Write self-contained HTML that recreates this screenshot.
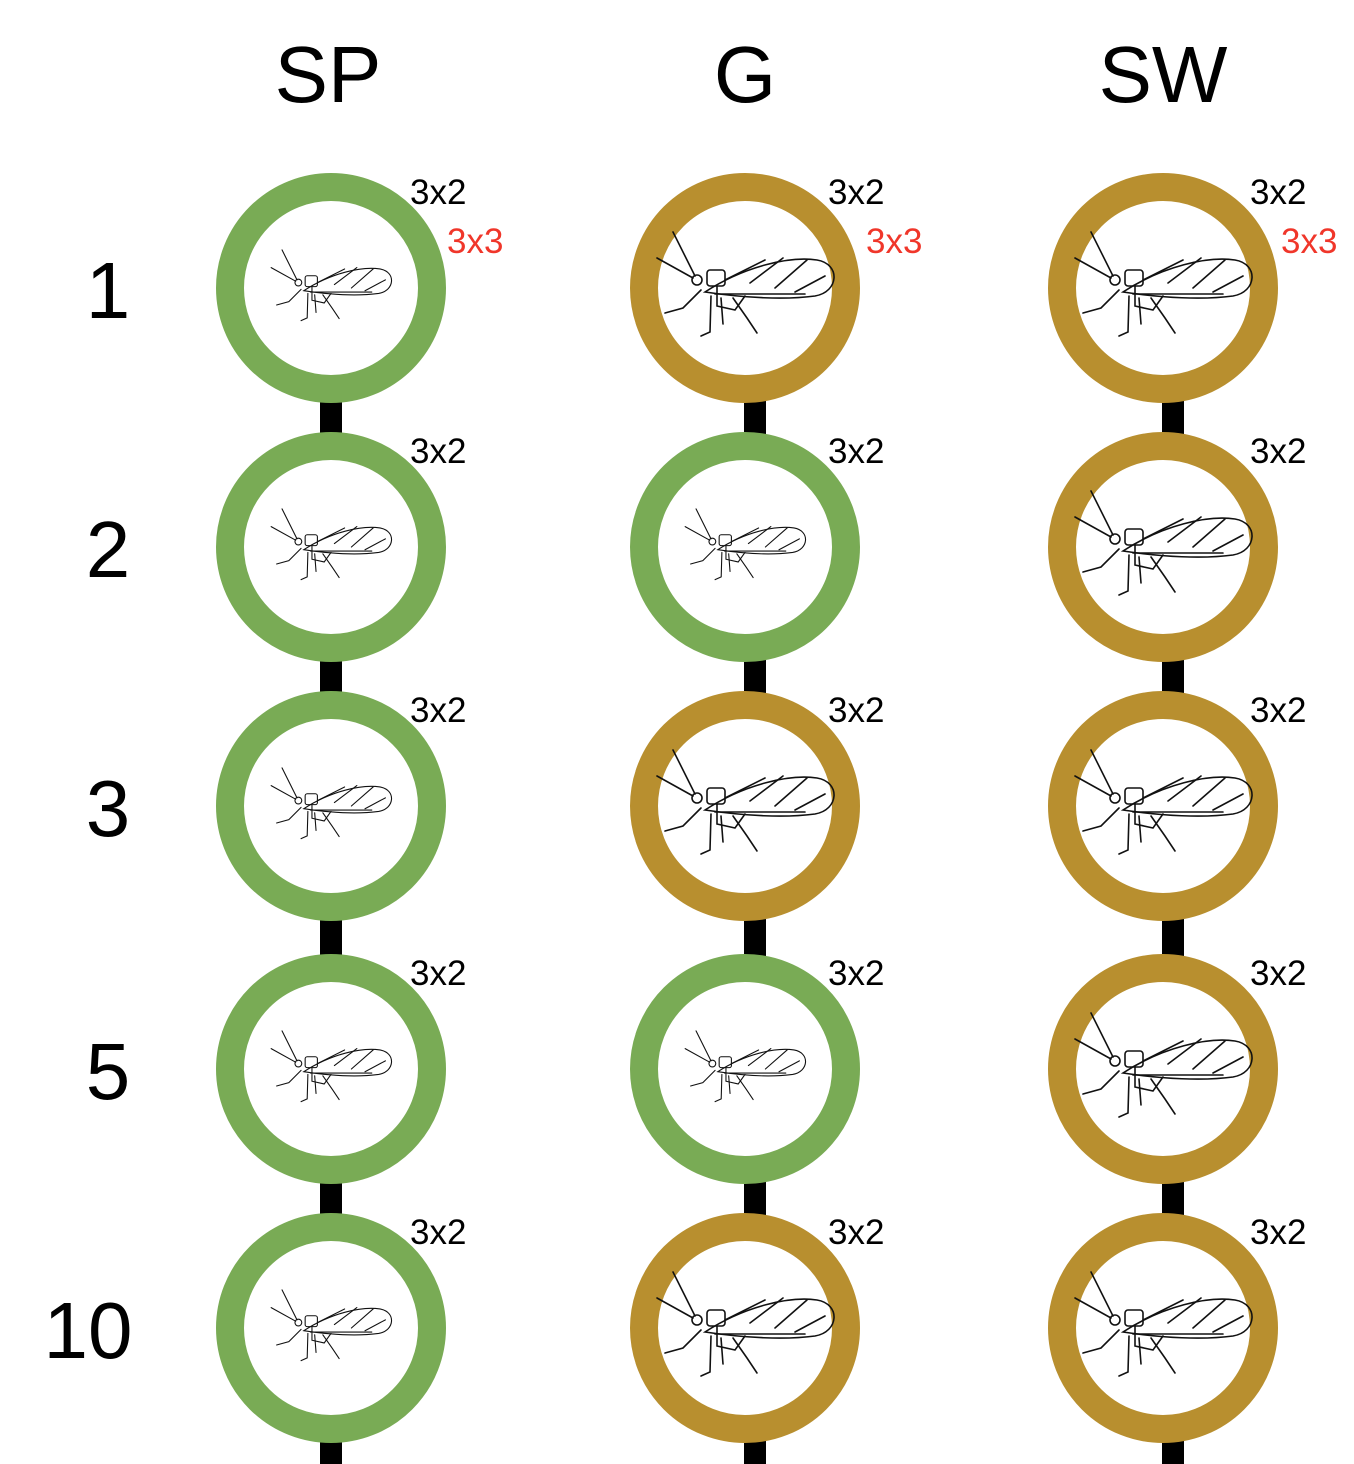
<!DOCTYPE html>
<html><head><meta charset="utf-8"><style>
html,body{margin:0;padding:0;background:#fff}
svg{display:block}
text{font-family:"Liberation Sans",sans-serif}
</style></head><body>
<svg id="chart" width="1354" height="1464" viewBox="0 0 1354 1464" xmlns="http://www.w3.org/2000/svg">
<defs>
<g id="aphid" fill="none" stroke="#111" stroke-width="1.6" stroke-linecap="round">
<path d="M-40,4 C0,-22 45,-32 72,-28 C96,-24 94,4 70,8 C40,12 0,10 -40,4 Z"/>
<path d="M-20,-8 L20,-28 M5,-5 L38,-30 M30,0 L62,-28 M50,4 L80,-12 M-30,6 L60,6"/>
<rect x="-38" y="-18" width="18" height="16" rx="3"/>
<path d="M-28,-2 L-28,18 L-10,22 L0,8"/>
<circle cx="-48" cy="-8" r="5"/>
<path d="M-50,-12 L-72,-56 M-52,-10 L-88,-30"/>
<path d="M-44,2 L-62,20 L-80,25 M-34,8 L-35,44 L-44,48 M-24,10 L-22,36 M-12,10 L2,30 L12,45"/>
</g>
</defs>
<g id="layer"></g>
</svg>
<script>
const columns = ["SP", "G", "SW"];
const rows = ["1", "2", "3", "5", "10"];
// state per column per row: "g" = green, "b" = brown
const colSP = ["g","g","g","g","g"];
const colG  = ["b","g","b","g","b"];
const colSW = ["b","b","b","b","b"];
const sizeLabels = ["3x2","3x2","3x2","3x2","3x2"];
const extraLabels = ["3x3","","","",""];

const states = [colSP, colG, colSW];
const colX = i => [331, 745, 1163][i];
const headX = i => [328, 745, 1163][i];
const labOff = i => [79, 83, 87][i];
const redOff = i => [116, 121, 118][i];
const rowY = j => [288, 547, 806, 1069, 1328][j];
const NS = "http://www.w3.org/2000/svg";
const layer = document.getElementById("layer");
function mk(tag, attrs, parent){const e=document.createElementNS(NS,tag);for(const k in attrs)e.setAttribute(k,attrs[k]);(parent||layer).appendChild(e);return e;}

columns.forEach((c,i)=>{
  const t = mk("text",{x:headX(i),y:102,"font-size":80,"text-anchor":"middle"});
  t.textContent=c;
  
  
});
rows.forEach((r,j)=>{
  const t = mk("text",{x:r.length>1?88:108,y:rowY(j)+30,"font-size":80,"text-anchor":"middle"});
  t.textContent=r;
  
  
});
// connectors
columns.forEach((c,i)=>{
  rows.forEach((r,j)=>{
    const y1 = rowY(j)+110;
    const y2 = j<rows.length-1 ? rowY(j+1)-110 : 1464;
    const rc = mk("rect",{x:colX(i)-11+(i===0?0:10),y:y1,width:22,height:y2-y1,fill:"#000"});
    
    
  });
});
columns.forEach((c,i)=>{
  rows.forEach((r,j)=>{
    const cx=colX(i), cy=rowY(j), st=states[i][j];
    const g = mk("g",{});
    
    
    mk("circle",{cx:cx,cy:cy,r:101,fill:"#fff",stroke:st==="g"?"#79ab55":"#b88f2f","stroke-width":28},g);
    const s = st==="g"?0.68:1;
    mk("use",{href:"#aphid",transform:`translate(${cx},${cy}) scale(${s})`},g);
    const t = mk("text",{x:cx+labOff(i),y:cy-84,"font-size":35},g);
    t.textContent=sizeLabels[j];
    
    
    if(extraLabels[j]){
      const t2 = mk("text",{x:cx+redOff(i),y:cy-35,"font-size":35,fill:"#f0362a"},g);
      t2.textContent=extraLabels[j];
      
      
    }
  });
});
</script>
</body></html>
